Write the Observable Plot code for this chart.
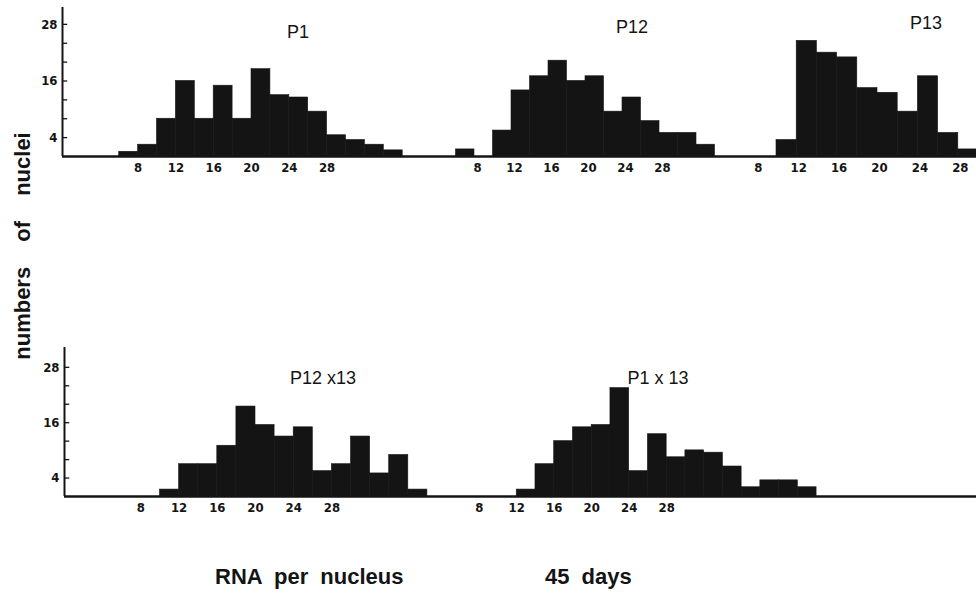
<!DOCTYPE html>
<html>
<head>
<meta charset="utf-8">
<script src="https://cdn.jsdelivr.net/npm/d3@7"></script>
<script src="https://cdn.jsdelivr.net/npm/@observablehq/plot@0.6"></script>
<style>
  html, body { margin: 0; padding: 0; background: #fff; }
  #page { position: relative; width: 976px; height: 596px; overflow: hidden; background: #fff; color: #141414; }
  .panel { position: absolute; }
  .title { position: absolute; transform: translate(-50%, -50%); font-family: "Liberation Sans", Arial, sans-serif; font-size: 18px; line-height: 1; white-space: pre; color: #141414; }
  .lbl { position: absolute; font-family: "Liberation Sans", Arial, sans-serif; font-weight: bold; font-size: 22px; line-height: 1; white-space: pre; color: #141414; }
</style>
</head>
<body>
<div id="page"></div>
<script>
// ---- data ----
const xTicks = [8, 12, 16, 20, 24, 28];
const yTickLabels = [4, 16, 28];
const yMinorTicks = [4, 8, 12, 16, 20, 24, 28];
const binWidth = 2;

const titles = ["P1", "P12", "P13", "P12 x13", "P1 x 13"];

// top row
const p1Bins   = [6, 8, 10, 12, 14, 16, 18, 20, 22, 24, 26, 28, 30, 32, 34];
const p1Counts = [1, 2.5, 8, 16, 8, 15, 8, 18.5, 13, 12.5, 9.5, 4.5, 3.5, 2.5, 1.3];

const p12Bins   = [6, 8, 10, 12, 14, 16, 18, 20, 22, 24, 26, 28, 30, 32];
const p12Counts = [1.5, 0, 5.5, 14, 17, 20.3, 16, 17, 9.5, 12.5, 7.5, 5, 5, 2.5];

const p13Bins   = [10, 12, 14, 16, 18, 20, 22, 24, 26, 28];
const p13Counts = [3.5, 24.5, 22, 21, 14.5, 13.5, 9.5, 17, 5, 1.5];

// bottom row
const p12x13Bins   = [10, 12, 14, 16, 18, 20, 22, 24, 26, 28, 30, 32, 34, 36];
const p12x13Counts = [1.5, 7, 7, 11, 19.5, 15.5, 13, 15, 5.5, 7, 13, 5, 9, 1.5];

const p1x13Bins   = [12, 14, 16, 18, 20, 22, 24, 26, 28, 30, 32, 34, 36, 38, 40, 42];
const p1x13Counts = [1.5, 7, 12, 15, 15.5, 23.5, 5.5, 13.5, 8.5, 10, 9.5, 6.5, 2, 3.5, 3.5, 2];

const yLabel = "numbers of nuclei";
const xLabel = "RNA per nucleus";
const note = "45 days";

// ---- layout ----
const page = document.getElementById("page");
const ink = "#141414";
const rows = [
  {top: 0, yMax: 31.57},
  {top: 340, yMax: 32.3}
];

function panel({bins, counts, x0px, ppu, domain, row, yAxis, labelDx = 0}) {
  const r = rows[row];
  const ml = yAxis ? 40 : 0;
  const innerW = (domain[1] - domain[0]) * ppu;
  const data = bins.map((b, i) => ({a: b, b: b + binWidth, n: counts[i]}));
  const marks = [
    Plot.rectY(data, {x1: "a", x2: "b", y: "n", fill: ink, stroke: ink, strokeWidth: 0.6}),
    Plot.ruleY([0], {stroke: ink, strokeWidth: 2.6}),
    Plot.axisX({ticks: xTicks, tickSize: 0, tickPadding: 6, label: null, dx: labelDx})
  ];
  if (yAxis) {
    marks.push(Plot.ruleX([domain[0]], {stroke: ink, strokeWidth: 2}));
    marks.push(Plot.ruleY(yMinorTicks, {x1: domain[0], x2: domain[0] + 0.55, stroke: ink, strokeWidth: 1.3}));
    marks.push(Plot.axisY({ticks: yTickLabels, tickSize: 0, tickPadding: 5, label: null}));
  }
  const svg = Plot.plot({
    width: innerW + ml,
    height: 181,
    marginTop: 7,
    marginBottom: 25,
    marginLeft: ml,
    marginRight: 0,
    x: {domain, axis: null},
    y: {domain: [0, r.yMax], axis: null},
    style: {
      fontFamily: '"Liberation Sans Narrow", "DejaVu Sans Condensed", "Liberation Sans", sans-serif',
      fontSize: "13px",
      fontWeight: "bold",
      color: ink,
      background: "transparent",
      overflow: "visible"
    },
    marks
  });
  const div = document.createElement("div");
  div.className = "panel";
  div.style.left = (x0px + domain[0] * ppu - ml) + "px";
  div.style.top = r.top + "px";
  div.appendChild(svg);
  page.appendChild(div);
}

panel({bins: p1Bins, counts: p1Counts, x0px: 62, ppu: 9.45, domain: [0, 40], row: 0, yAxis: true});
panel({bins: p12Bins, counts: p12Counts, x0px: 400, ppu: 9.25, domain: [40 / 9.25, 330 / 9.25], row: 0, labelDx: 3});
panel({bins: p13Bins, counts: p13Counts, x0px: 675, ppu: 10.1, domain: [55 / 10.1, 301 / 10.1], row: 0, labelDx: 2});

panel({bins: p12x13Bins, counts: p12x13Counts, x0px: 63.6, ppu: 9.55, domain: [0, 40], row: 1, yAxis: true});
panel({bins: p1x13Bins, counts: p1x13Counts, x0px: 403.3, ppu: 9.37, domain: [42.2 / 9.37, 572.7 / 9.37], row: 1});

// titles and labels
const titlePos = [[298, 32], [632, 27], [926, 23], [323, 378], [658, 378]];
titles.forEach((t, i) => {
  const d = document.createElement("div");
  d.className = "title";
  d.textContent = t;
  d.style.left = titlePos[i][0] + "px";
  d.style.top = titlePos[i][1] + "px";
  page.appendChild(d);
});

const yl = document.createElement("div");
yl.className = "lbl";
yl.textContent = yLabel;
yl.style.wordSpacing = "19px";
yl.style.left = "23px";
yl.style.top = "246px";
yl.style.transform = "translate(-50%, -50%) rotate(-90deg)";
page.appendChild(yl);

const xl = document.createElement("div");
xl.className = "lbl";
xl.textContent = xLabel;
xl.style.wordSpacing = "6px";
xl.style.left = "215px";
xl.style.top = "566px";
page.appendChild(xl);

const nl = document.createElement("div");
nl.className = "lbl";
nl.textContent = note;
nl.style.wordSpacing = "6px";
nl.style.left = "545px";
nl.style.top = "566px";
page.appendChild(nl);
</script>
</body>
</html>
